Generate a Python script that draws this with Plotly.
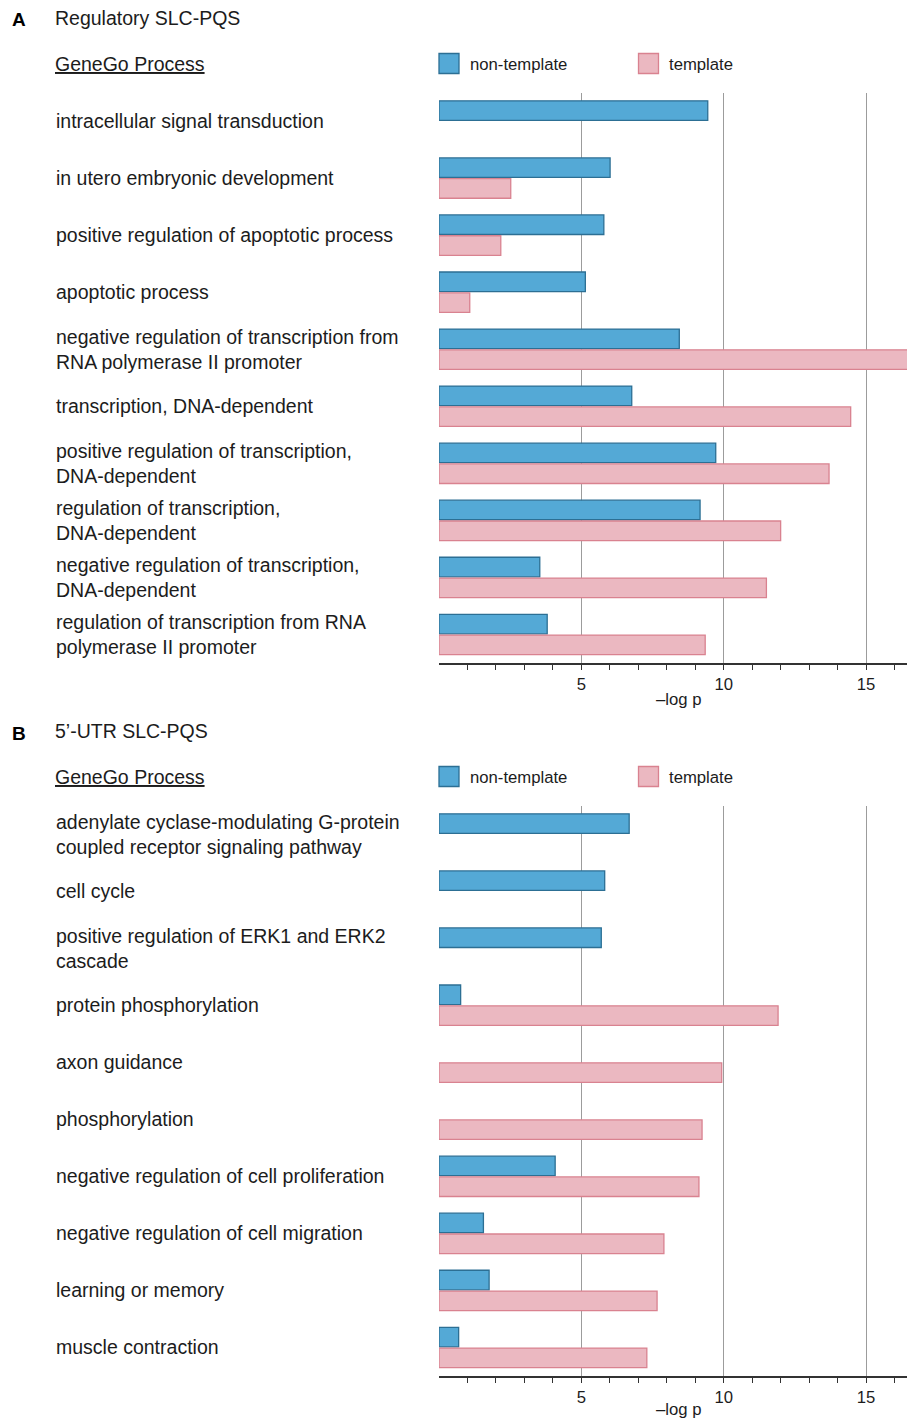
import plotly.graph_objects as go

W, H = 907, 1418
FONT = "Liberation Sans, Arial, sans-serif"
TXT = "#1c1c1c"

# ---------------- data ----------------
A_title = "Regulatory SLC-PQS"
A_categories = [
    "intracellular signal transduction",
    "in utero embryonic development",
    "positive regulation of apoptotic process",
    "apoptotic process",
    "negative regulation of transcription from<br>RNA polymerase II promoter",
    "transcription, DNA-dependent",
    "positive regulation of transcription,<br>DNA-dependent",
    "regulation of transcription,<br>DNA-dependent",
    "negative regulation of transcription,<br>DNA-dependent",
    "regulation of transcription from RNA<br>polymerase II promoter",
]
A_nontemplate = [9.44, 6.01, 5.79, 5.14, 8.44, 6.77, 9.72, 9.17, 3.54, 3.80]
A_template = [None, 2.52, 2.17, 1.08, 17.3, 14.46, 13.70, 12.00, 11.50, 9.35]

B_title = "5\u2019-UTR SLC-PQS"
B_categories = [
    "adenylate cyclase-modulating G-protein<br>coupled receptor signaling pathway",
    "cell cycle",
    "positive regulation of ERK1 and ERK2<br>cascade",
    "protein phosphorylation",
    "axon guidance",
    "phosphorylation",
    "negative regulation of cell proliferation",
    "negative regulation of cell migration",
    "learning or memory",
    "muscle contraction",
]
B_nontemplate = [6.68, 5.82, 5.70, 0.76, None, None, 4.08, 1.56, 1.76, 0.69]
B_template = [None, None, None, 11.91, 9.93, 9.24, 9.13, 7.90, 7.66, 7.30]

series_names = ["non-template", "template"]
tick_values = [5, 10, 15]
tick_labels = ["5", "10", "15"]
x_title = "\u2013log p"
header = "GeneGo Process"

# ---------------- styles ----------------
BLUE_FILL, BLUE_LINE = "#54A9D6", "#2C6F94"
PINK_FILL, PINK_LINE = "#EBB8C1", "#D98290"

def px(x):
    return x / W

def py(y):
    return 1 - y / H

fig = go.Figure()

panels = [
    ("A", A_title, A_categories, A_nontemplate, A_template, 0, "", "", 699),
    ("B", B_title, B_categories, B_nontemplate, B_template, 713, "2", "2", 1409),
]

shapes = []
annotations = []
X_MAX = (907 - 439) / 28.47

for letter, title, cats, nt, tp, off, xs, ys, xt_y in panels:
    ypos = list(range(len(cats)))
    fig.add_trace(go.Bar(
        y=ypos, x=nt, orientation="h", name=series_names[0],
        marker=dict(color=BLUE_FILL, line=dict(color=BLUE_LINE, width=1.3)),
        xaxis="x" + xs, yaxis="y" + ys, showlegend=False,
    ))
    fig.add_trace(go.Bar(
        y=ypos, x=tp, orientation="h", name=series_names[1],
        marker=dict(color=PINK_FILL, line=dict(color=PINK_LINE, width=1.3)),
        xaxis="x" + xs, yaxis="y" + ys, showlegend=False,
    ))
    top, bot = 92.5 + off, 663 + off
    fig.layout["xaxis" + xs] = dict(
        domain=[px(439), 1], anchor="y" + ys, range=[0, X_MAX],
        tickvals=tick_values, ticktext=tick_labels,
        ticks="outside", ticklen=5, tickwidth=1, tickcolor="#333",
        showline=True, linecolor="#333", linewidth=1.5,
        showgrid=True, gridcolor="#9c9c9c", gridwidth=1, zeroline=False,
        tickfont=dict(family=FONT, size=16.7, color=TXT),
        minor=dict(tickvals=[i for i in range(1, 17) if i % 5], ticks="outside",
                   ticklen=5, tickcolor="#333", tickwidth=1, showgrid=False),
        fixedrange=True,
    )
    fig.layout["yaxis" + ys] = dict(
        domain=[py(bot), py(top)], anchor="x" + xs,
        range=[len(cats) - 0.5, -0.5], showticklabels=False,
        showgrid=False, zeroline=False, showline=False, ticks="",
        fixedrange=True,
    )
    # category labels
    for i, c in enumerate(cats):
        annotations.append(dict(
            x=px(54), xref="paper", y=i, yref="y" + ys, text=c,
            xanchor="left", yanchor="middle", align="left", showarrow=False,
            font=dict(family=FONT, size=19.5, color=TXT),
        ))
    # panel letter and title
    annotations.append(dict(x=px(10), y=py(20 + off), xref="paper", yref="paper",
                            text="<b>%s</b>" % letter, xanchor="left", yanchor="middle",
                            showarrow=False, font=dict(family=FONT, size=19, color="#000")))
    annotations.append(dict(x=px(53), y=py(18 + off), xref="paper", yref="paper",
                            text=title, xanchor="left", yanchor="middle",
                            showarrow=False, font=dict(family=FONT, size=19.5, color=TXT)))
    annotations.append(dict(x=px(53), y=py(64 + off), xref="paper", yref="paper",
                            text="<u>%s</u>" % header, xanchor="left", yanchor="middle",
                            showarrow=False, font=dict(family=FONT, size=19.5, color=TXT)))
    # legend
    for (x0, fill, line, name, tx) in [(439, BLUE_FILL, BLUE_LINE, series_names[0], 468),
                                        (638.5, PINK_FILL, PINK_LINE, series_names[1], 667)]:
        shapes.append(dict(type="rect", xref="paper", yref="paper",
                           x0=px(x0), x1=px(x0 + 20), y0=py(53.5 + off), y1=py(73.5 + off),
                           fillcolor=fill, line=dict(color=line, width=1.3)))
        annotations.append(dict(x=px(tx), y=py(64 + off), xref="paper", yref="paper",
                                text=name, xanchor="left", yanchor="middle",
                                showarrow=False, font=dict(family=FONT, size=16.7, color=TXT)))
    # x-axis title
    annotations.append(dict(x=px(678), y=py(xt_y), xref="paper", yref="paper",
                            text=x_title, xanchor="center", yanchor="middle",
                            showarrow=False, font=dict(family=FONT, size=16.7, color=TXT)))

fig.update_layout(
    width=W, height=H, margin=dict(l=0, r=0, t=0, b=0),
    paper_bgcolor="white", plot_bgcolor="white",
    barmode="group", bargap=0.27, bargroupgap=0.06,
    shapes=shapes, annotations=annotations,
)

fig.write_html(
    "out.html",
    config={"displayModeBar": False},
    post_script="document.body.style.margin='0';document.body.style.padding='0';"
                "document.body.style.overflow='hidden';",
)
